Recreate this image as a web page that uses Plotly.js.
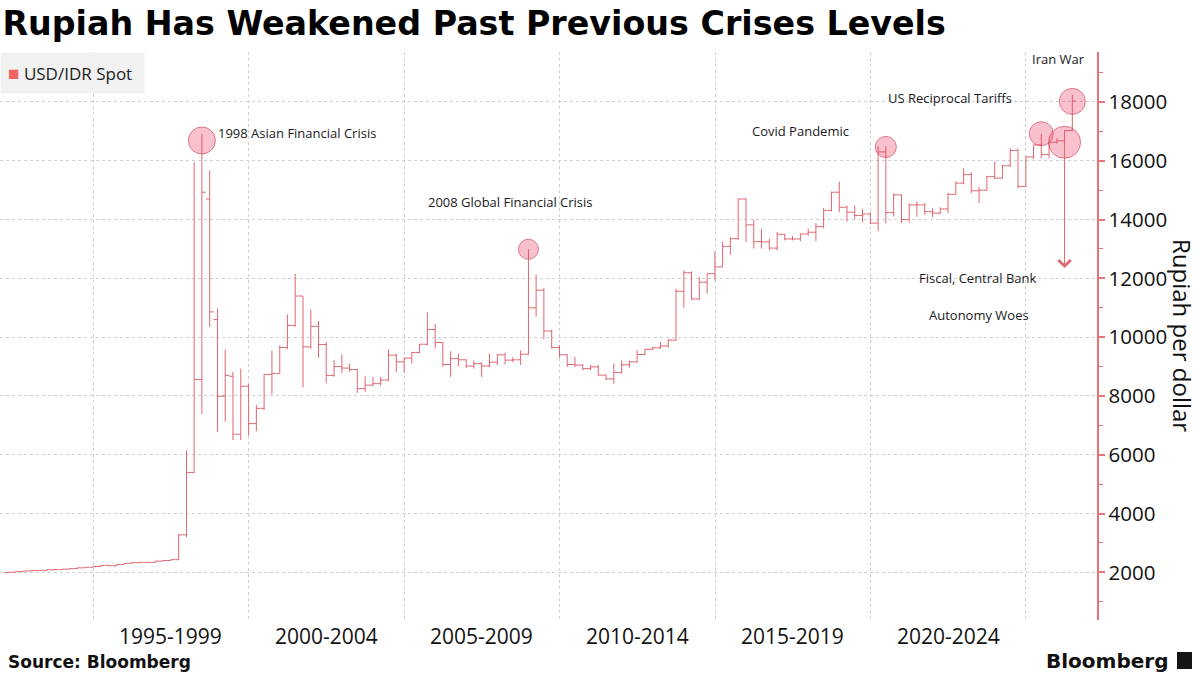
<!DOCTYPE html>
<html>
<head>
<meta charset="utf-8">
<script src="https://cdn.plot.ly/plotly-3.0.1.min.js"></script>
<style>
  html, body { margin: 0; padding: 0; background: #ffffff; }
  #chart { width: 1200px; height: 675px; }
</style>
</head>
<body>
<div id="chart"></div>
<script>
// ---------------- DATA (quarterly USD/IDR spot) ----------------
const firstYear = 1992;           // first quarter shown: 1992 Q1
const quarterCount = 138;         // through 2026 Q2

const openVals = [
  1992, 2005, 2025, 2045,   2062, 2070, 2085, 2095,   2110, 2130, 2155, 2175,
  2200, 2240, 2225, 2270,   2308, 2330, 2340, 2340,   2383, 2405, 2432, 3275,
  5400, 8560, 14700, 10600, 7990, 8670, 6700, 8330,   7060, 7580, 8735, 8760,
  9650, 10400, 11400, 9670, 10370, 9750, 8700, 9000,  8950, 8900, 8250, 8370,
  8420, 8540, 9390, 9160,   9290, 9480, 9760, 10260,  9820, 9070, 9270, 9230,
  9020, 9100, 9020, 9150,   9400, 9220, 9230, 9420,   11000, 11600, 10210, 9650,
  9400, 9070, 9050, 8930,   8990, 8710, 8580, 8800,   9060, 9160, 9410, 9590,
  9640, 9700, 9900, 11560,  12190, 11300, 11870, 12160, 12390, 13090, 13350, 14700,
  13820, 13250, 13240, 13030, 13500, 13340, 13340, 13510, 13570, 13760, 14310, 14930,
  14420, 14250, 14140, 14190, 13880, 16300, 14240, 14840, 14000, 14500, 14500, 14270,
  14220, 14360, 14860, 15240, 15530, 14980, 15000, 15460, 15410, 15830, 16350, 15130,
  16130, 16540, 16210, 16630, 16680, 17030
];
const highVals = [
  2010, 2030, 2050, 2068,   2075, 2090, 2100, 2115,   2135, 2160, 2180, 2205,
  2250, 2260, 2275, 2310,   2335, 2350, 2350, 2385,   2410, 2440, 3300, 6150,
  15950, 16900, 15670, 10970, 9580, 8820, 8930, 8400, 7700, 8740, 9550, 9720,
  10770, 12160, 11400, 10940, 10550, 9840, 9220, 9410, 9100, 8920, 8670, 8650,
  8650, 9580, 9440, 9300,   9500, 9770, 10840, 10460, 9830, 9520, 9440, 9240,
  9210, 9150, 9440, 9410,   9480, 9320, 9550, 13000,  12130, 11670, 10250, 9730,
  9420, 9330, 9080, 9050,   9050, 8720, 9100, 9210,   9200, 9550, 9600, 9670,
  9840, 9930, 11650, 12270, 12240, 12050, 12160, 12900, 13250, 13400, 14720, 14720,
  14000, 13690, 13350, 13580, 13520, 13440, 13520, 13690, 13890, 14390, 14950, 15290,
  14480, 14480, 14360, 14250, 16500, 16490, 14900, 14850, 14560, 14610, 14560, 14390,
  14420, 14900, 15300, 15750, 15620, 15100, 15490, 15980, 15860, 16430, 16420, 16150,
  16540, 16920, 16650, 16760, 17040, 18250
];
const lowVals = [
  1988, 2000, 2020, 2040,   2055, 2065, 2080, 2090,   2105, 2125, 2150, 2170,
  2195, 2215, 2220, 2265,   2300, 2325, 2330, 2335,   2375, 2400, 2420, 3200,
  5370, 7380, 10350, 6780,  7120, 6500, 6500, 6650,   6800, 7515, 8050, 8760,
  9600, 10350, 8290, 9600,  9300, 8430, 8650, 8780,   8820, 8100, 8140, 8330,
  8350, 8500, 8800, 8800,   9100, 9450, 9720, 9610,   8990, 8650, 9010, 8950,
  8930, 8650, 8980, 9050,   9070, 9150, 9050, 9400,   10700, 9930, 9610, 9300,
  8990, 8990, 8870, 8880,   8700, 8550, 8420, 8760,   8960, 9140, 9400, 9550,
  9600, 9650, 9880, 11000,  11260, 11250, 11480, 11930, 12390, 12800, 13300, 13230,
  13010, 13010, 12950, 12950, 13290, 13290, 13260, 13450, 13270, 13700, 14280, 14250,
  13930, 14020, 13910, 13850, 13600, 13880, 14100, 13880, 13900, 14100, 14160, 14080,
  14190, 14220, 14850, 15200, 14900, 14560, 14980, 15380, 15400, 15800, 15070, 15120,
  16060, 16090, 16080, 16580, 16550, 17000
];
const closeVals = [
  2005, 2025, 2045, 2062,   2070, 2085, 2095, 2110,   2130, 2155, 2175, 2200,
  2240, 2225, 2270, 2308,   2330, 2340, 2340, 2383,   2405, 2432, 3275, 5400,
  8560, 14930, 10860, 7990, 8700, 6700, 8330, 7060,   7580, 8735, 8760, 9650,
  10400, 11400, 9670, 10370, 9750, 8700, 9000, 8950,  8900, 8250, 8370, 8420,
  8540, 9390, 9160, 9290,   9480, 9760, 10260, 9820,  9070, 9270, 9230, 9020,
  9100, 9020, 9150, 9400,   9220, 9230, 9420, 11000,  11600, 10210, 9650, 9400,
  9070, 9050, 8930, 8990,   8710, 8580, 8800, 9060,   9160, 9410, 9590, 9640,
  9700, 9900, 11560, 12190, 11300, 11870, 12160, 12390, 13090, 13350, 14700, 13820,
  13250, 13240, 13030, 13500, 13340, 13340, 13510, 13570, 13760, 14310, 14930, 14420,
  14250, 14140, 14190, 13880, 16300, 14240, 14840, 14000, 14500, 14500, 14270, 14220,
  14360, 14860, 15240, 15530, 14980, 15000, 15460, 15410, 15830, 16350, 15130, 16130,
  16540, 16210, 16630, 16680, 17030, 18030
];

// Highlighted events (circle on the bar) and their labels
const eventDates  = ['1998-06-30', '2008-12-31', '2020-06-30', '2025-06-30', '2026-03-31', '2026-06-30'];
const eventLevels = [16690, 12990, 16470, 16920, 16630, 18020];
const eventLabels = ['1998 Asian Financial Crisis', '2008 Global Financial Crisis', 'Covid Pandemic',
                     'US Reciprocal Tariffs', 'Fiscal, Central Bank|Autonomy Woes', 'Iran War'];
const arrowEndLevel = 12350;      // tip of the "Fiscal, Central Bank Autonomy Woes" arrow

// Axis ticks / labels
const gridYears   = ['1995-01-01', '2000-01-01', '2005-01-01', '2010-01-01', '2015-01-01', '2020-01-01', '2025-01-01'];
const periodMids  = ['1997-07-02', '2002-07-02', '2007-07-02', '2012-07-02', '2017-07-02', '2022-07-02'];
const periodTexts = ['1995-1999', '2000-2004', '2005-2009', '2010-2014', '2015-2019', '2020-2024'];

// ---------------- BUILD ----------------
const qEnd = ['03-31', '06-30', '09-30', '12-31'];
const dates = [];
for (let i = 0; i < quarterCount; i++) {
  dates.push((firstYear + Math.floor(i / 4)) + '-' + qEnd[i % 4]);
}

const barColor = '#de6670';
const axisRed  = '#e7727a';

const ohlc = {
  type: 'ohlc',
  x: dates, open: openVals, high: highVals, low: lowVals, close: closeVals,
  increasing: { line: { color: barColor, width: 1 } },
  decreasing: { line: { color: barColor, width: 1 } },
  tickwidth: 0.5,
  showlegend: false,
  hoverinfo: 'skip'
};

const markerSizes = [27, 20, 21, 24, 32, 26];
const circles = {
  type: 'scatter', mode: 'markers',
  x: eventDates, y: eventLevels,
  marker: { size: markerSizes, color: 'rgba(238,62,98,0.45)', line: { color: 'rgb(214,58,88)', width: 1 } },
  showlegend: false, hoverinfo: 'skip', cliponaxis: false
};

const annFont = { family: 'Open Sans', size: 13, color: '#1a1a1a' };
// label placement (pixel offsets from each event circle)
const labelOffsets = [
  { xanchor: 'left',   xshift: 14,  yshift: 7 },
  { xanchor: 'center', xshift: -18, yshift: 47 },
  { xanchor: 'center', xshift: -85, yshift: 16 },
  { xanchor: 'center', xshift: -91, yshift: 36 },
  null,
  { xanchor: 'center', xshift: -14, yshift: 42 }
];

const annotations = [];
eventLabels.forEach((lab, i) => {
  const off = labelOffsets[i];
  if (!off) return;
  annotations.push({
    x: eventDates[i], y: eventLevels[i], xref: 'x', yref: 'y',
    text: lab, showarrow: false, font: annFont,
    xanchor: off.xanchor, yanchor: 'middle', xshift: off.xshift, yshift: off.yshift
  });
});
// arrow + two-line label for fiscal event
annotations.push({
  x: eventDates[4], y: arrowEndLevel, xref: 'x', yref: 'y',
  ax: eventDates[4], ay: eventLevels[4], axref: 'x', ayref: 'y',
  text: '', showarrow: true, arrowhead: 4, arrowsize: 2.4, arrowwidth: 1,
  arrowcolor: barColor, standoff: 0, startstandoff: 0
});
const fiscalLines = eventLabels[4].split('|');
annotations.push({
  x: eventDates[4], y: arrowEndLevel, xref: 'x', yref: 'y', text: fiscalLines[0],
  showarrow: false, font: annFont, xanchor: 'center', yanchor: 'middle', xshift: -87, yshift: -10
});
annotations.push({
  x: eventDates[4], y: arrowEndLevel, xref: 'x', yref: 'y', text: fiscalLines[1],
  showarrow: false, font: annFont, xanchor: 'center', yanchor: 'middle', xshift: -86, yshift: -47
});

// x period labels
periodTexts.forEach((t, i) => {
  annotations.push({
    x: periodMids[i], y: 0, xref: 'x', yref: 'paper', text: t, showarrow: false,
    font: { family: 'Open Sans', size: 21, color: '#111' }, xanchor: 'center', yanchor: 'top', yshift: 0
  });
});

// legend box
annotations.push({
  x: 0, y: 1, xref: 'paper', yref: 'paper', xanchor: 'left', yanchor: 'top',
  text: '<span style="color:#f26464;font-size:19px">■</span> USD/IDR Spot ', showarrow: false,
  font: { family: 'Open Sans', size: 17, color: '#222' },
  bgcolor: '#f1f1f1', borderpad: 7
});

// y-axis title (reads top to bottom)
annotations.push({
  x: 1182 / 1097, y: (620 - 335) / 568, xref: 'paper', yref: 'paper',
  text: 'Rupiah per dollar', textangle: 90, showarrow: false,
  font: { family: 'Open Sans', size: 24, color: '#111' }, xanchor: 'center', yanchor: 'middle'
});

// footer
annotations.push({
  x: 0, y: (620 - 662) / 568, xref: 'paper', yref: 'paper', xanchor: 'left', yanchor: 'middle', xshift: 6,
  text: '<b>Source: Bloomberg</b>', showarrow: false,
  font: { family: 'DejaVu Sans', size: 17, color: '#111' }
});
annotations.push({
  x: 1170 / 1097, y: (620 - 661) / 568, xref: 'paper', yref: 'paper', xanchor: 'right', yanchor: 'middle',
  text: '<b>Bloomberg</b>', showarrow: false,
  font: { family: 'DejaVu Sans', size: 20, color: '#111' }
});

const layout = {
  width: 1200, height: 675,
  paper_bgcolor: '#ffffff', plot_bgcolor: '#ffffff',
  margin: { l: 0, r: 103, t: 52, b: 55, pad: 0 },
  font: { family: 'Open Sans', color: '#111' },
  title: {
    text: '<b>Rupiah Has Weakened Past Previous Crises Levels</b>',
    x: 0.002, xanchor: 'left', xref: 'container',
    y: 1 - 23 / 675, yanchor: 'middle', yref: 'container',
    font: { family: 'DejaVu Sans', size: 33.3, color: '#000' }
  },
  xaxis: {
    type: 'date', range: ['1992-01-01', '2027-04-16'],
    tickmode: 'array', tickvals: gridYears, showticklabels: false, ticks: '',
    showgrid: true, gridcolor: '#cfcfcf', griddash: 'dot', gridwidth: 1,
    zeroline: false, showline: false,
    rangeslider: { visible: false }, fixedrange: true
  },
  yaxis: {
    side: 'right', range: [380, 19700], tickmode: 'linear', tick0: 0, dtick: 2000,
    tickformat: 'd',
    showgrid: true, gridcolor: '#cfcfcf', griddash: 'dot', gridwidth: 1,
    showline: true, linecolor: axisRed, linewidth: 1.5,
    ticks: 'outside', ticklen: 6, tickwidth: 2, tickcolor: axisRed,
    minor: { dtick: 1000, tick0: 1000, ticks: 'outside', ticklen: 4, tickwidth: 1, tickcolor: axisRed, showgrid: false },
    tickfont: { family: 'Open Sans', size: 20.5, color: '#111' },
    zeroline: false, fixedrange: true
  },
  shapes: [
    { type: 'rect', xref: 'paper', yref: 'paper',
      x0: 1177 / 1097, x1: 1192 / 1097, y0: (620 - 669) / 568, y1: (620 - 652) / 568,
      fillcolor: '#151515', line: { width: 0 } }
  ],
  annotations: annotations,
  showlegend: false,
  hovermode: false
};

Plotly.newPlot('chart', [ohlc, circles], layout, { staticPlot: true, displayModeBar: false });
</script>
</body>
</html>
